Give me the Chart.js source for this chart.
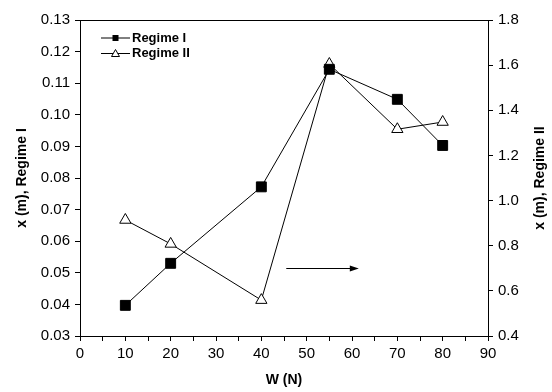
<!DOCTYPE html>
<html>
<head>
<meta charset="utf-8">
<script src="https://cdn.jsdelivr.net/npm/chart.js@4"></script>
<style>
  html, body { margin: 0; padding: 0; background: #fff; }
  #wrap { width: 552px; height: 392px; }
</style>
</head>
<body>
<div id="wrap"><canvas id="chart"></canvas></div>
<script>
const loads = [10, 20, 40, 55, 70, 80];           // W (N)
const regime1 = [0.0397, 0.0530, 0.0772, 0.1144, 0.1049, 0.0903]; // x (m), left axis
const regime2 = [0.914, 0.808, 0.559, 1.605, 1.316, 1.348];       // x (m), right axis
const arrowFrom = [45.5, 0.0516]; // W, left-axis value
const arrowTo = [61.5, 0.0516];
const rightTitle = 'x (m), Regime II';

const sans = '"Liberation Sans", Arial, sans-serif';

const frame = {
  id: 'frame',
  afterDraw(chart) {
    const c = chart.ctx, a = chart.chartArea;
    c.save();
    c.strokeStyle = '#000';
    c.lineWidth = 1;
    c.beginPath();
    c.moveTo(a.left, a.top + 0.5);
    c.lineTo(a.right, a.top + 0.5);
    c.stroke();

    // arrow pointing to right axis
    const xs = chart.scales.x, ys = chart.scales.y;
    const x1 = xs.getPixelForValue(arrowFrom[0]), x2 = xs.getPixelForValue(arrowTo[0]);
    const y = Math.round(ys.getPixelForValue(arrowFrom[1])) + 0.5;
    c.beginPath();
    c.moveTo(x1, y);
    c.lineTo(x2 - 6, y);
    c.stroke();
    c.fillStyle = '#000';
    c.beginPath();
    c.moveTo(x2, y);
    c.lineTo(x2 - 9, y - 3);
    c.lineTo(x2 - 9, y + 3);
    c.closePath();
    c.fill();

    // right axis title, reading bottom to top like the left one
    c.save();
    c.translate(540, (a.top + a.bottom) / 2);
    c.rotate(-Math.PI / 2);
    c.font = 'bold 14px ' + sans;
    c.textAlign = 'center';
    c.textBaseline = 'middle';
    c.fillText(rightTitle, 0, 0);
    c.restore();

    // legend
    const lx = 101, ly = 38;
    chart.data.datasets.forEach((ds, i) => {
      const yy = ly + i * 15.5;
      c.beginPath();
      c.moveTo(lx, yy);
      c.lineTo(lx + 29, yy);
      c.stroke();
      const mx = lx + 14.5;
      if (ds.pointStyle === 'rect') {
        c.fillStyle = '#000';
        c.fillRect(mx - 3, yy - 3, 6, 6);
      } else {
        c.fillStyle = '#fff';
        c.beginPath();
        c.moveTo(mx, yy - 4);
        c.lineTo(mx + 4, yy + 3);
        c.lineTo(mx - 4, yy + 3);
        c.closePath();
        c.fill();
        c.stroke();
      }
      c.fillStyle = '#000';
      c.font = 'bold 13px ' + sans;
      c.textAlign = 'left';
      c.textBaseline = 'middle';
      c.fillText(ds.label, lx + 31, yy);
    });
    c.restore();
  }
};

new Chart(document.getElementById('chart'), {
  type: 'line',
  data: {
    labels: loads,
    datasets: [
      {
        label: 'Regime I',
        data: loads.map((w, i) => ({ x: w, y: regime1[i] })),
        yAxisID: 'y',
        borderColor: '#000',
        borderWidth: 1,
        backgroundColor: '#000',
        pointStyle: 'rect',
        pointRadius: 7,
        pointBorderWidth: 1,
        tension: 0
      },
      {
        label: 'Regime II',
        data: loads.map((w, i) => ({ x: w, y: regime2[i] })),
        yAxisID: 'y1',
        borderColor: '#000',
        borderWidth: 1,
        backgroundColor: '#fff',
        pointStyle: 'triangle',
        pointRadius: 6.5,
        pointBorderWidth: 1,
        tension: 0
      }
    ]
  },
  options: {
    responsive: true,
    maintainAspectRatio: false,
    animation: false,
    layout: { padding: { top: 20, left: 0, right: 0, bottom: 0 } },
    plugins: {
      legend: { display: false },
      tooltip: { enabled: false }
    },
    scales: {
      x: {
        type: 'linear',
        min: 0,
        max: 90,
        afterFit(s) { s.height = 56; },
        border: { color: '#000', width: 1 },
        grid: { drawOnChartArea: false, color: '#000', tickLength: 5 },
        ticks: {
          stepSize: 5,
          autoSkip: false,
          maxRotation: 0,
          color: '#000',
          padding: 4,
          font: { family: sans, size: 15 },
          callback: v => (v % 10 === 0 ? v : '')
        },
        title: {
          display: true,
          text: 'W (N)',
          color: '#000',
          font: { family: sans, size: 14, weight: 'bold' },
          padding: { top: 0, bottom: 3 }
        }
      },
      y: {
        position: 'left',
        min: 0.03,
        max: 0.13,
        afterFit(s) { s.width = 80; },
        border: { color: '#000', width: 1 },
        grid: { drawOnChartArea: false, color: '#000', tickLength: 5 },
        ticks: {
          stepSize: 0.01,
          color: '#000',
          padding: 5,
          font: { family: sans, size: 15 },
          callback: v => v.toFixed(2)
        },
        title: {
          display: true,
          text: 'x (m), Regime I',
          color: '#000',
          font: { family: sans, size: 14, weight: 'bold' },
          padding: { top: 14, bottom: 0 }
        }
      },
      y1: {
        position: 'right',
        min: 0.4,
        max: 1.8,
        afterFit(s) { s.width = 64; },
        border: { color: '#000', width: 1 },
        grid: { drawOnChartArea: false, color: '#000', tickLength: 5 },
        ticks: {
          stepSize: 0.2,
          color: '#000',
          padding: 5,
          font: { family: sans, size: 15 },
          callback: v => v.toFixed(1)
        },
        title: { display: false }
      }
    }
  },
  plugins: [frame]
});
</script>
</body>
</html>
